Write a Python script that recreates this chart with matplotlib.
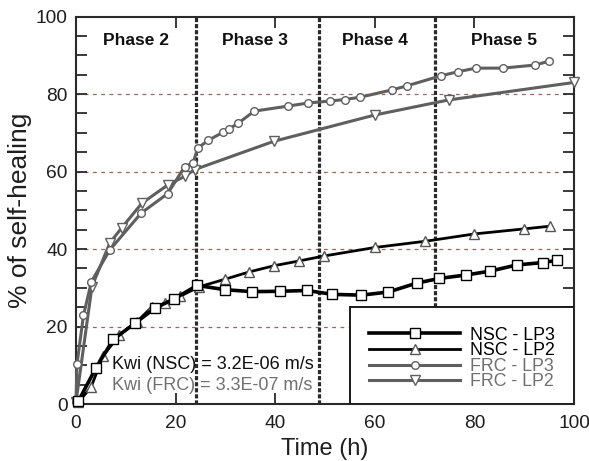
import matplotlib
matplotlib.use("Agg")
import matplotlib.pyplot as plt
from matplotlib.patches import Rectangle

plt.rcParams['font.family'] = ['Liberation Sans', 'DejaVu Sans']

# ---- data ----
nsc_lp3_x = [0.5, 4.0, 7.5, 11.9, 15.9, 19.7, 24.3, 30.0, 35.3, 41.0, 46.4, 51.5, 57.3, 62.7, 68.4, 72.9, 78.3, 83.2, 88.5, 93.7, 96.6]
nsc_lp3_y = [0.8, 9.3, 16.7, 20.9, 24.8, 27.1, 30.6, 29.5, 29.0, 29.1, 29.3, 28.3, 28.1, 28.9, 31.2, 32.4, 33.3, 34.3, 35.9, 36.5, 37.1]

nsc_lp2_x = [0.5, 3.0, 5.5, 8.7, 12.2, 15.2, 17.9, 20.9, 24.6, 29.9, 34.8, 39.8, 44.7, 49.8, 60.0, 70.1, 80.0, 90.0, 95.2]
nsc_lp2_y = [0.5, 4.3, 12.5, 17.8, 21.2, 25.0, 26.0, 27.8, 30.2, 32.2, 34.1, 35.7, 36.9, 38.2, 40.4, 42.0, 43.9, 45.2, 45.9]

frc_lp3_x = [0, 0.2, 1.5, 3.1, 6.8, 13.1, 18.4, 21.8, 23.5, 24.5, 26.6, 29.6, 30.7, 32.6, 35.8, 42.6, 46.6, 51.0, 54.0, 57.1, 63.5, 66.4, 73.2, 76.8, 80.3, 85.7, 92.2, 95.0]
frc_lp3_y = [0.5, 10.3, 22.9, 31.6, 39.8, 49.3, 54.3, 61.2, 62.3, 66.1, 68.1, 70.2, 71.0, 72.5, 75.6, 76.9, 77.7, 78.2, 78.6, 79.2, 81.1, 82.1, 84.7, 85.8, 86.7, 86.7, 87.5, 88.5]

frc_lp2_x = [0, 3.2, 6.8, 9.2, 13.2, 18.5, 21.9, 23.8, 39.7, 60.0, 74.9, 100]
frc_lp2_y = [0.5, 30.3, 41.6, 45.5, 51.8, 56.6, 58.8, 60.5, 67.8, 74.6, 78.5, 83.0]

phase_bounds = [24, 48.7, 72]
phase_labels = ["Phase 2", "Phase 3", "Phase 4", "Phase 5"]
phase_label_x = [12, 36, 60, 86]

x_ticks = [0, 20, 40, 60, 80, 100]
y_ticks = [0, 20, 40, 60, 80, 100]
grid_levels = [20, 40, 60, 80]

txt_nsc = "Kwi (NSC) = 3.2E-06 m/s"
txt_frc = "Kwi (FRC) = 3.3E-07 m/s"

# ---- figure ----
W, H = 589, 461
fig = plt.figure(figsize=(W / 100, H / 100), dpi=100)
ax = fig.add_axes([76 / W, (H - 404) / H, (574 - 76) / W, (404 - 16.6) / H])

ax.set_xlim(0, 100)
ax.set_ylim(0, 100)

gray = '#5f5f5f'
tick_col = '#1e1e1e'

for g in grid_levels:
    ax.axhline(g, color='#9a6656', lw=0.9, linestyle=(0, (3, 3.6)), zorder=1)

for b in phase_bounds:
    ax.axvline(b, color='#2a2a2a', lw=2.3, linestyle=(0, (1.3, 0.6)), zorder=1.5)

for lx, lab in zip(phase_label_x, phase_labels):
    ax.text(lx, 93.8, lab, ha='center', va='center', fontsize=12.5,
            fontweight='bold', color='#111111', zorder=5)

l4, = ax.plot(frc_lp2_x, frc_lp2_y, color=gray, lw=2.2, marker='v', ms=6.5,
              mfc='white', mec=gray, mew=1.0, zorder=3, clip_on=False, label='FRC - LP2')
l3, = ax.plot(frc_lp3_x, frc_lp3_y, color=gray, lw=2.2, marker='o', ms=5.5,
              mfc='white', mec=gray, mew=1.0, zorder=3.1, clip_on=False, label='FRC - LP3')
l2, = ax.plot(nsc_lp2_x, nsc_lp2_y, color='black', lw=2.0, marker='^', ms=7,
              mfc='white', mec='#555555', mew=1.0, zorder=3.2, clip_on=False, label='NSC - LP2')
l1, = ax.plot(nsc_lp3_x, nsc_lp3_y, color='black', lw=2.6, marker='s', ms=7,
              mfc='white', mec='black', mew=1.0, zorder=3.3, clip_on=False, label='NSC - LP3')

ax.text(7.2, 10.3, txt_nsc, fontsize=13, color='#111111', va='center', ha='left', zorder=5)
ax.text(7.2, 4.9, txt_frc, fontsize=13, color='#707070', va='center', ha='left', zorder=5)

# legend box
x0 = (350 - 76) / 498
ytop = (404 - 306.7) / (404 - 16.6)
ax.add_patch(Rectangle((x0, 0), 1 - x0, ytop, transform=ax.transAxes,
                       facecolor='white', edgecolor='#1a1a1a', lw=1.4, zorder=6))
leg = ax.legend(handles=[l1, l2, l3, l4], loc='center',
                bbox_to_anchor=(x0 + (1 - x0) / 2, ytop / 2 - 0.008),
                frameon=False, fontsize=12.8, handlelength=5.1, handletextpad=0.55,
                labelspacing=-0.08, borderpad=0, numpoints=1)
leg.set_zorder(7)
for t in leg.get_texts():
    t.set_color('black' if t.get_text().startswith('NSC') else '#707070')

# ticks
ax.set_xticks(x_ticks)
ax.set_yticks(y_ticks)
ax.set_yticks([v for v in range(0, 101, 5)], minor=True)
ax.tick_params(axis='both', which='both', direction='in', top=True, right=True,
               colors='#2a2a2a', labelcolor=tick_col, labelsize=13.8)
ax.tick_params(axis='x', which='major', length=8, width=1.3, pad=8)
ax.tick_params(axis='y', which='both', length=8, width=1.3, pad=6)
ax.tick_params(axis='x', which='minor', bottom=False, top=False)

for s in ax.spines.values():
    s.set_color('#2a2a2a')
    s.set_linewidth(1.5)

ax.set_xlabel('Time (h)', fontsize=17, color=tick_col, labelpad=4)
ax.set_ylabel('% of self-healing', fontsize=19, color=tick_col, labelpad=3)

fig.savefig('out.png', dpi=100)
